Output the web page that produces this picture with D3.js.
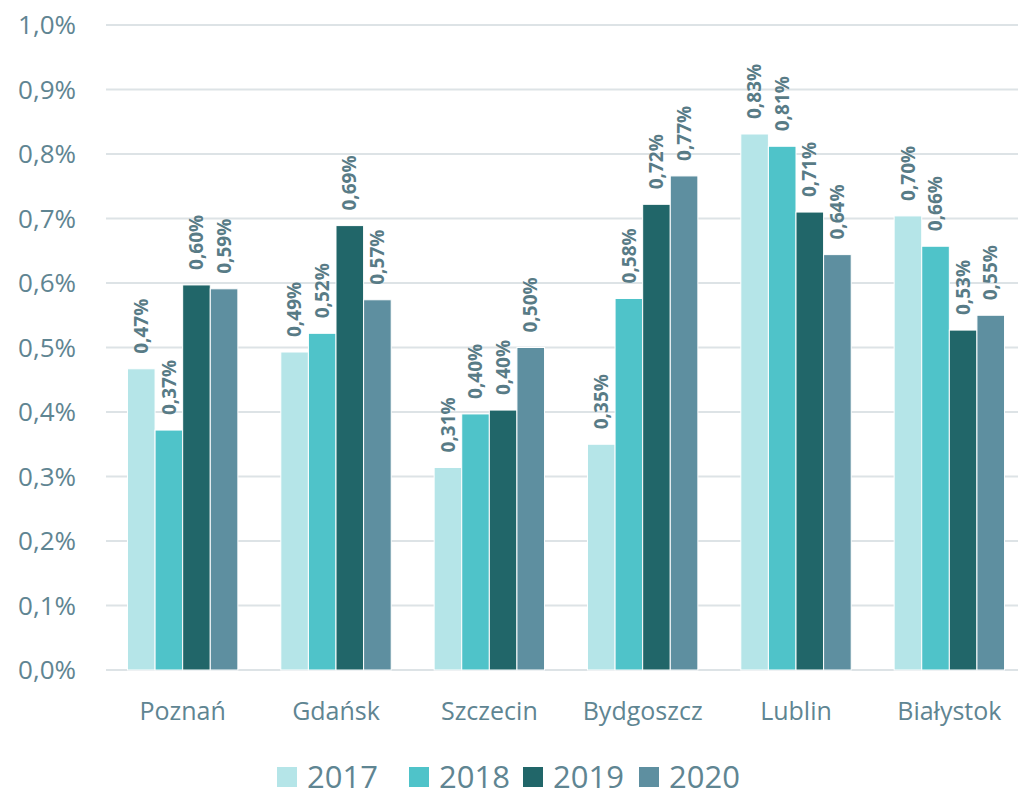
<!DOCTYPE html>
<html><head><meta charset="utf-8">
<script src="https://cdn.jsdelivr.net/npm/d3@7"></script>
<style>body{margin:0;background:#fff}svg{display:block}</style>
</head><body>
<svg id="c" width="1018" height="789"></svg>
<script>
const categories = ["Poznań","Gdańsk","Szczecin","Bydgoszcz","Lublin","Białystok"];
const years = ["2017","2018","2019","2020"];
const v2017 = [0.467, 0.493, 0.314, 0.350, 0.831, 0.704];
const v2018 = [0.372, 0.522, 0.397, 0.576, 0.812, 0.657];
const v2019 = [0.597, 0.689, 0.403, 0.722, 0.710, 0.527];
const v2020 = [0.591, 0.574, 0.500, 0.766, 0.644, 0.550];
const yTicks = [0,0.1,0.2,0.3,0.4,0.5,0.6,0.7,0.8,0.9,1.0];
const colors = ["#b5e5e8","#4fc3c9","#216669","#5e8fa0"];
const series = [v2017, v2018, v2019, v2020];

(function(){
const svg = d3.select("#c");
const font = "'Open Sans', sans-serif";
const textColor = "#5f8592";
const pL = 106, pR = 1026, pT = 25, pB = 670;

const y = d3.scaleLinear().domain([0,1.0]).range([pB, pT]);
const x0 = d3.scaleBand().domain(categories).range([pL, pR]).paddingInner(0.28).paddingOuter(0.14);
const x1 = d3.scaleBand().domain(years).range([0, x0.bandwidth()]);

svg.append("g").selectAll("line").data(yTicks).join("line")
  .attr("x1", pL).attr("x2", 1018)
  .attr("y1", d => y(d)).attr("y2", d => y(d))
  .attr("stroke", "#dde3e6").attr("stroke-width", 2);

const fmt = d => d3.format(".1f")(d).replace(".", ",") + "%";
svg.append("g").selectAll("text").data(yTicks).join("text")
  .attr("x", 76).attr("y", d => y(d)).attr("dy", "0.35em")
  .attr("text-anchor", "end").attr("font-family", font).attr("font-size", 26)
  .attr("fill", textColor).text(fmt);

const groups = svg.append("g").selectAll("g").data(categories).join("g")
  .attr("transform", d => `translate(${x0(d)},0)`);
groups.selectAll("rect").data((d,i) => years.map((yr,j) => ({yr, v: series[j][i], j})))
  .join("rect")
  .attr("x", d => x1(d.yr)).attr("width", x1.bandwidth())
  .attr("y", d => y(d.v)).attr("height", d => y(0) - y(d.v))
  .attr("fill", d => colors[d.j]).attr("stroke", "#fff").attr("stroke-width", 1);

const lfmt = d => d3.format(".2f")(d).replace(".", ",") + "%";
groups.selectAll("text").data((d,i) => years.map((yr,j) => ({yr, v: series[j][i], j})))
  .join("text")
  .attr("transform", d => `translate(${x1(d.yr) + x1.bandwidth()/2},${y(d.v) - 15}) rotate(-90)`)
  .attr("dy", "0.35em")
  .attr("font-family", font).attr("font-size", 19).attr("font-weight", "bold")
  .attr("fill", "#587b86").text(d => lfmt(d.v));

svg.append("g").selectAll("text").data(categories).join("text")
  .attr("x", d => x0(d) + x0.bandwidth()/2).attr("y", 720)
  .attr("text-anchor", "middle").attr("font-family", font).attr("font-size", 25)
  .attr("fill", textColor).text(d => d);

const legX = [277, 409, 523, 639];
const leg = svg.append("g").selectAll("g").data(years).join("g")
  .attr("transform", (d,i) => `translate(${legX[i]},767)`);
leg.append("rect").attr("width", 20).attr("height", 20).attr("fill", (d,i) => colors[i]);
leg.append("text").attr("x", 30).attr("y", 10).attr("dy", "0.35em")
  .attr("font-family", font).attr("font-size", 31).attr("fill", textColor).text(d => d);
})();
</script>
</body></html>
